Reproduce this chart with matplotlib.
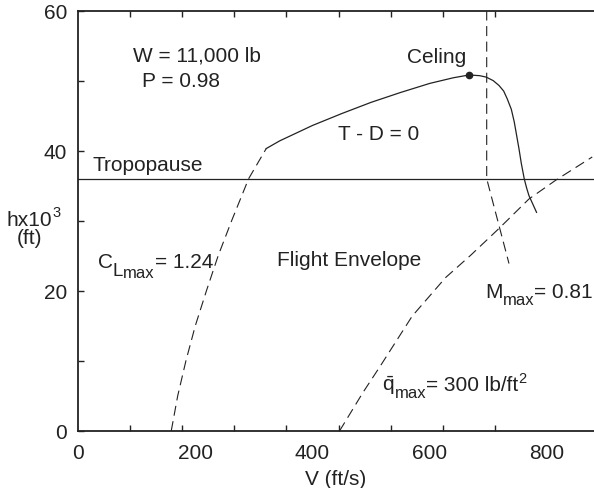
import matplotlib
matplotlib.use("Agg")
import matplotlib.pyplot as plt
import numpy as np

plt.rcParams['font.family'] = ['Liberation Sans', 'DejaVu Sans']
plt.rcParams['mathtext.fontset'] = 'custom'
plt.rcParams['mathtext.rm'] = 'Liberation Sans'
plt.rcParams['mathtext.it'] = 'Liberation Sans:italic'

# Boundaries of the flight envelope, V in ft/s, h in 1000 ft
clmax_v = [159, 170, 184, 200, 219, 239, 262, 291, 321]
clmax_h = [0, 5, 10, 15, 20, 25, 30, 36, 40.3]

thrust_v = [321, 344, 400, 450, 500, 550, 600, 640, 667, 685, 696, 708, 718, 726, 732,
            739, 744, 748, 752, 756, 761, 765, 769, 782]
thrust_h = [40.3, 41.4, 43.6, 45.3, 46.9, 48.3, 49.6, 50.4, 50.8, 50.7, 50.5, 50.0, 49.3, 48.5, 47.4,
            45.9, 44.1, 42.2, 40.3, 38.2, 36.0, 34.7, 33.6, 31.2]

mach_v = [697, 697, 735]
mach_h = [60, 36, 23.9]

qmax_v = [446, 486, 515, 570, 627, 670, 718, 769, 815, 877]
qmax_h = [0, 5.5, 9.2, 16.4, 21.9, 25.1, 28.9, 33.1, 35.8, 39.1]

ceiling_v, ceiling_h = 667, 50.8
tropopause_h = 36.0

x_labels = [0, 200, 400, 600, 800]
y_labels = [0, 20, 40, 60]

ink = '#222222'
fs = 15

fig = plt.figure(figsize=(5.94, 4.89), dpi=100)
ax = fig.add_axes([78/594, 1 - 432/489, 1 - 78/594, (432 - 11.5)/489])
renderer = fig.canvas.get_renderer()

dash = (0, (9, 5))
ax.plot(clmax_v, clmax_h, color=ink, lw=0.8, linestyle=dash)
ax.plot(thrust_v, thrust_h, color=ink, lw=0.9)
ax.plot(mach_v, mach_h, color=ink, lw=0.8, linestyle=dash)
ax.plot(qmax_v, qmax_h, color=ink, lw=0.8, linestyle=dash)
ax.plot([ceiling_v], [ceiling_h], 'o', color=ink, markersize=4.5)
ax.axhline(tropopause_h, color=ink, lw=0.9)

ax.set_xlim(0, 880)
ax.set_ylim(0, 60)

# labels sit on 200s, tick marks on ninths of 800 as in the original
ax.set_xticks(x_labels)
ax.set_xticks(np.linspace(0, 800, 10), minor=True)
ax.tick_params(axis='x', which='major', length=0, pad=9, labelsize=fs, labelcolor=ink)
ax.tick_params(axis='x', which='minor', direction='in', length=4, width=1,
               top=True, bottom=True, color=ink)
ax.set_yticks(y_labels)
ax.set_yticks([10, 30, 50], minor=True)
ax.tick_params(axis='y', which='both', direction='in', length=4, width=1,
               labelsize=fs, labelcolor=ink, color=ink, pad=8)

for side in ['left', 'bottom', 'top']:
    ax.spines[side].set_linewidth(1.3)
    ax.spines[side].set_color(ink)
ax.spines['right'].set_visible(False)

ax.set_xlabel('V (ft/s)', fontsize=fs, color=ink, labelpad=5)
fig.text(7/594, 1 - 226/489, 'hx10', fontsize=fs, color=ink, ha='left', va='baseline')
fig.text(52/594, 1 - 217.5/489, '3', fontsize=10.5, color=ink, ha='left', va='baseline')
fig.text(29/594, 1 - 244/489, '(ft)', fontsize=fs, color=ink, ha='center', va='baseline')


def compose(x, y, parts):
    # pieces of one label set side by side: (text, size, raise in pt)
    dx = 0
    for s, size, dy in parts:
        t = ax.annotate(s, (x, y), xytext=(dx, dy), textcoords='offset points',
                        fontsize=size, color=ink, ha='left', va='baseline')
        dx += t.get_window_extent(renderer).width * 72 / fig.dpi


ax.text(94, 52.8, 'W = 11,000 lb', fontsize=fs, color=ink, va='baseline')
ax.text(109, 49.2, 'P = 0.98', fontsize=fs, color=ink, va='baseline')
ax.text(25, 37.2, 'Tropopause', fontsize=fs, color=ink, va='baseline')
ax.text(612, 52.7, 'Celing', fontsize=fs, color=ink, va='baseline', ha='center')
ax.text(512, 41.7, 'T - D = 0', fontsize=fs, color=ink, va='baseline', ha='center')
ax.text(340, 23.7, 'Flight Envelope', fontsize=fs, color=ink, va='baseline')
compose(34, 23.4, [('C', fs, 0), ('L', 13.5, -6), ('max', 12, -7.2), ('= 1.24', fs, 0)])
compose(694, 19.1, [('M', fs, 0), ('max', 12, -5), ('= 0.81', fs, 0)])
compose(519, 5.8, [(r'$\bar{\mathrm{q}}$', fs, 0), ('max', 12, -5),
                   ('= 300 lb/ft', fs, 0), ('2', 10.5, 6)])

fig.savefig('out.png', dpi=100)
